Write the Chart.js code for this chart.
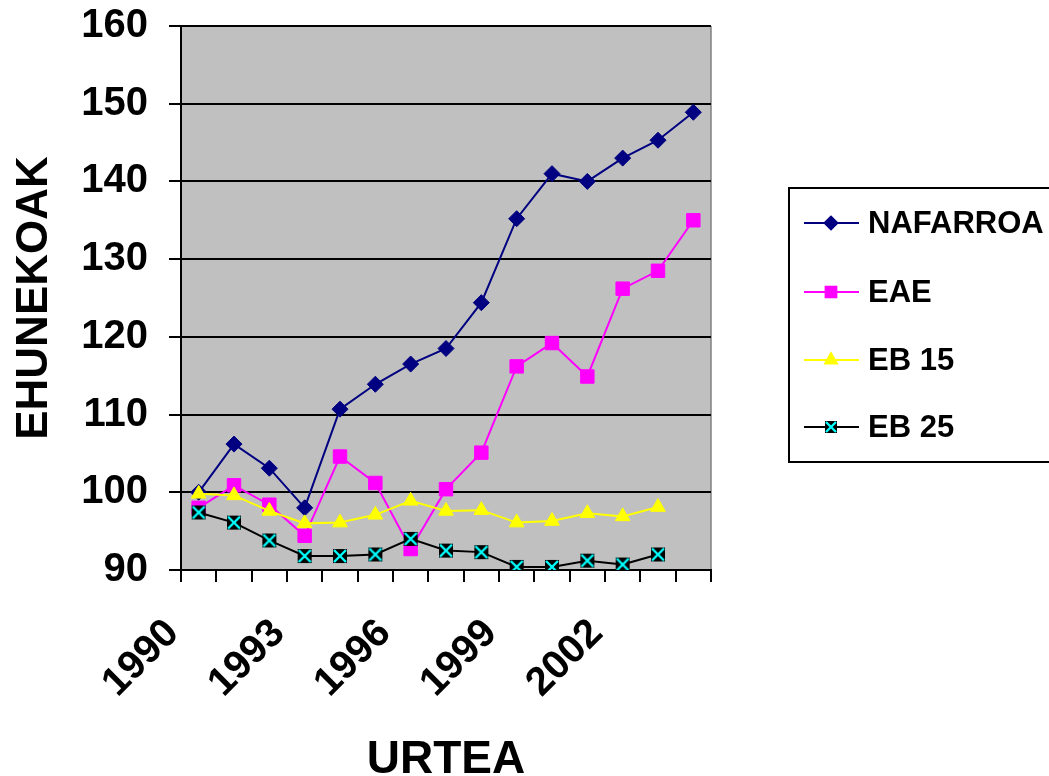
<!DOCTYPE html>
<html>
<head>
<meta charset="utf-8">
<script src="https://cdn.jsdelivr.net/npm/chart.js@4/dist/chart.umd.min.js"></script>
<style>
  html, body { margin: 0; padding: 0; background: #fff; }
  #wrap { width: 1049px; height: 776px; position: relative; }
</style>
</head>
<body>
<div id="wrap"><canvas id="chart"></canvas></div>
<script>
// Data
const years = ['1990', '1991', '1992', '1993', '1994', '1995', '1996', '1997',
  '1998', '1999', '2000', '2001', '2002', '2003', '2004'];
const nafarroa = [100, 106.2, 103.1, 98, 110.7, 113.9, 116.5, 118.5, 124.4, 135.2, 141, 140, 143, 145.3, 148.9];
const eae = [98, 100.9, 98.4, 94.4, 104.6, 101.2, 92.7, 100.4, 105.1, 116.2, 119.2, 114.9, 126.2, 128.5, 135];
const eb15 = [99.8, 99.6, 97.6, 96, 96.1, 97.1, 98.9, 97.6, 97.7, 96.1, 96.3, 97.3, 96.9, 98.1];
const eb25 = [97.4, 96.1, 93.8, 91.8, 91.8, 92, 94, 92.5, 92.3, 90.4, 90.4, 91.2, 90.7, 92];
const yTicks = [90, 100, 110, 120, 130, 140, 150, 160];
const labelEvery = 3;

const FONT = '"Liberation Sans", Arial, sans-serif';

// Black square with a cyan cross, used for EB 25
function crossBox(size) {
  const c = document.createElement('canvas');
  c.width = size; c.height = size;
  const g = c.getContext('2d');
  g.fillStyle = '#000';
  g.fillRect(1, 1, size - 2, size - 2);
  g.strokeStyle = '#00FFFF';
  g.lineWidth = 2.4;
  g.beginPath();
  g.moveTo(2, 2); g.lineTo(size - 2, size - 2);
  g.moveTo(size - 2, 2); g.lineTo(2, size - 2);
  g.stroke();
  return c;
}
const ebMarker = crossBox(16);
const ebLegendMarker = crossBox(14);

const series = [
  { label: 'NAFARROA', data: nafarroa, color: '#000080', style: 'rectRot', radius: 8, order: 4 },
  { label: 'EAE', data: eae, color: '#FF00FF', style: 'rect', radius: 9.5, order: 3 },
  { label: 'EB 15', data: eb15, color: '#FFFF00', style: 'triangle', radius: 8.5, order: 2 },
  { label: 'EB 25', data: eb25, color: '#000000', style: ebMarker, radius: 8, order: 1 }
];

// grey plot background and thin grey right edge
const plotBg = {
  id: 'plotBg',
  beforeDraw(chart) {
    const { ctx, chartArea: a } = chart;
    ctx.save();
    ctx.fillStyle = '#C0C0C0';
    ctx.fillRect(a.left, a.top, a.right - a.left, a.bottom - a.top);
    ctx.strokeStyle = '#808080';
    ctx.lineWidth = 1.5;
    ctx.beginPath();
    ctx.moveTo(a.right, a.top);
    ctx.lineTo(a.right, a.bottom);
    ctx.stroke();
    ctx.restore();
  }
};

// boxed legend on the right, line + marker + name
const boxLegend = {
  id: 'boxLegend',
  afterDraw(chart) {
    const ctx = chart.ctx;
    ctx.save();
    ctx.strokeStyle = '#000';
    ctx.lineWidth = 2;
    ctx.strokeRect(789, 188, 300, 274);
    const rows = [223, 292, 360, 427];
    series.forEach((s, i) => {
      const y = rows[i];
      ctx.strokeStyle = s.color;
      ctx.lineWidth = 2;
      ctx.beginPath();
      ctx.moveTo(804, y);
      ctx.lineTo(859, y);
      ctx.stroke();
      ctx.fillStyle = s.color;
      const style = s.style === ebMarker ? ebLegendMarker : s.style;
      Chart.helpers.drawPoint(ctx, { pointStyle: style, radius: s.radius * 0.8, borderWidth: 1 }, 831, y);
      ctx.fill();
      ctx.fillStyle = '#000';
      ctx.font = 'bold 31px ' + FONT;
      ctx.textBaseline = 'middle';
      ctx.textAlign = 'left';
      ctx.fillText(s.label, 868, y + 1);
    });
    ctx.restore();
  }
};

new Chart(document.getElementById('chart'), {
  type: 'line',
  data: {
    labels: years,
    datasets: series.map((s) => ({
      label: s.label,
      data: s.data,
      order: s.order,
      borderColor: s.color,
      backgroundColor: s.color,
      borderWidth: 2,
      pointStyle: s.style,
      pointRadius: s.radius,
      pointHoverRadius: s.radius,
      pointBorderWidth: 1,
      pointBorderColor: s.color,
      pointBackgroundColor: s.color,
      tension: 0,
      fill: false
    }))
  },
  options: {
    responsive: true,
    maintainAspectRatio: false,
    animation: false,
    layout: { padding: { top: 26, right: 338, left: 0, bottom: 0 } },
    plugins: {
      legend: { display: false },
      tooltip: { enabled: false }
    },
    scales: {
      x: {
        offset: true,
        afterFit: (scale) => {
          scale.height = 206;
          scale.paddingLeft = 0;
          scale.paddingRight = 0;
        },
        grid: {
          offset: true,
          drawOnChartArea: false,
          drawTicks: true,
          tickLength: 12,
          color: '#000',
          lineWidth: 2
        },
        border: { color: '#000', width: 2 },
        ticks: {
          autoSkip: false,
          minRotation: 45,
          maxRotation: 45,
          labelOffset: -26,
          padding: 28,
          color: '#000',
          font: { family: FONT, size: 40, weight: 'bold' },
          callback: function (val, i) {
            return i % labelEvery === 0 ? this.getLabelForValue(val) : '';
          }
        },
        title: {
          display: true,
          text: 'URTEA',
          color: '#000',
          font: { family: FONT, size: 46, weight: 'bold', lineHeight: 0.7 },
          padding: { top: 0, bottom: 0 }
        }
      },
      y: {
        min: yTicks[0],
        max: yTicks[yTicks.length - 1],
        afterFit: (scale) => {
          scale.width = 181;
          scale.paddingTop = 0;
          scale.paddingBottom = 0;
        },
        afterBuildTicks: (scale) => { scale.ticks = yTicks.map((v) => ({ value: v })); },
        grid: {
          color: '#000',
          lineWidth: 2,
          tickLength: 12
        },
        border: { color: '#000', width: 2 },
        ticks: {
          padding: 21,
          color: '#000',
          font: { family: FONT, size: 40, weight: 'bold' }
        },
        title: {
          display: true,
          text: 'EHUNEKOAK',
          color: '#000',
          font: { family: FONT, size: 44, weight: 'bold', lineHeight: 1 },
          padding: { top: 13, bottom: 0 }
        }
      }
    }
  },
  plugins: [plotBg, boxLegend]
});
</script>
</body>
</html>
